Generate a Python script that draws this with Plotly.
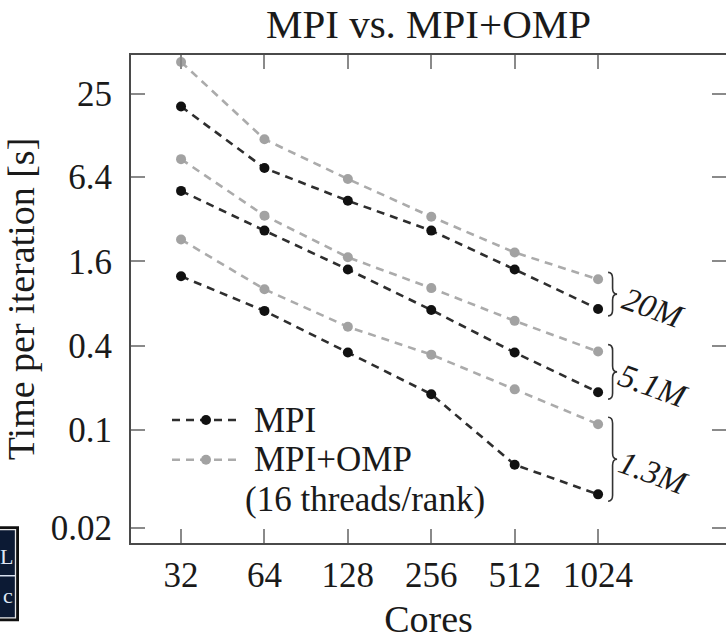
import math
import plotly.graph_objects as go

# ---------------- data ----------------
cores = [32, 64, 128, 256, 512, 1024]
core_labels = ["32", "64", "128", "256", "512", "1024"]
sizes = ["20M", "5.1M", "1.3M"]
mpi_20m = [20.4, 7.41, 4.33, 2.65, 1.40, 0.731]
mpi_5m = [5.09, 2.65, 1.40, 0.719, 0.357, 0.186]
mpi_1m = [1.25, 0.708, 0.357, 0.180, 0.0565, 0.0347]
omp_20m = [42.4, 11.9, 6.19, 3.33, 1.85, 1.19]
omp_5m = [8.58, 3.39, 1.71, 1.03, 0.601, 0.363]
omp_1m = [2.29, 1.01, 0.545, 0.345, 0.195, 0.110]
y_ticks = [25, 6.4, 1.6, 0.4, 0.1, 0.02]
y_tick_labels = ["25", "6.4", "1.6", "0.4", "0.1", "0.02"]

mpi_series = [mpi_20m, mpi_5m, mpi_1m]
omp_series = [omp_20m, omp_5m, omp_1m]

# ---------------- layout constants ----------------
W, H = 726, 640
ML, MR, MT, MB = 131, 0, 55, 93
PW = W - ML - MR
PH = H - MT - MB
XR = [1.3245, 3.472]
YR = [-1.807, 1.677]
FONT = "Liberation Serif"

BLACK_LINE = "#2e2e2e"
BLACK_MARK = "#111111"
GRAY_LINE = "#ababab"
GRAY_MARK = "#a2a2a2"
DASH = "8px,6px"


def xoff(xd, dpx):
    return 10 ** (math.log10(xd) + dpx * (XR[1] - XR[0]) / PW)


def yoff(yd, dpx_down):
    return 10 ** (math.log10(yd) - dpx_down * (YR[1] - YR[0]) / PH)


def px(x):
    return (x - ML) / PW


def py(y):
    return (H - MB - y) / PH


fig = go.Figure()

for s in mpi_series:
    fig.add_trace(go.Scatter(
        x=cores, y=s, mode="lines+markers", showlegend=False,
        line=dict(color=BLACK_LINE, width=2.6, dash=DASH),
        marker=dict(color=BLACK_MARK, size=10),
        yaxis="y",
    ))
for s in omp_series:
    fig.add_trace(go.Scatter(
        x=cores, y=s, mode="lines+markers", showlegend=False,
        line=dict(color=GRAY_LINE, width=2.6, dash=DASH),
        marker=dict(color=GRAY_MARK, size=10),
        yaxis="y2",
    ))

shapes = []
annotations = []

# braces with size labels
for name, m, o in zip(sizes, mpi_series, omp_series):
    top = yoff(o[-1], -7)
    bot = yoff(m[-1], 7)
    mid = math.sqrt(top * bot)
    xe = cores[-1]
    x0, xc, xt = xoff(xe, 10), xoff(xe, 14.5), xoff(xe, 19)
    r = 6
    path = (
        f"M {x0},{top} Q {xc},{top} {xc},{yoff(top, r)} "
        f"L {xc},{yoff(mid, -r)} Q {xc},{mid} {xt},{mid} "
        f"Q {xc},{mid} {xc},{yoff(mid, r)} "
        f"L {xc},{yoff(bot, -r)} Q {xc},{bot} {x0},{bot}"
    )
    shapes.append(dict(type="path", xref="x", yref="y", path=path,
                       line=dict(color="#333333", width=1.6)))
    annotations.append(dict(
        x=math.log10(xe), y=math.log10(mid), xref="x", yref="y",
        text=f"<i>{name}</i>", showarrow=False, textangle=20,
        xanchor="center", yanchor="middle", xshift=55, yshift=-14,
        font=dict(family=FONT, size=33, color="#1a1a1a"),
    ))

# custom legend
leg = [("MPI", BLACK_LINE, BLACK_MARK, 423), ("MPI+OMP", GRAY_LINE, GRAY_MARK, 463)]
for label, lc, mc, yy in leg:
    shapes.append(dict(type="line", xref="paper", yref="paper",
                       x0=px(172), x1=px(240), y0=py(yy), y1=py(yy),
                       line=dict(color=lc, width=2.6, dash=DASH)))
    shapes.append(dict(type="circle", xref="paper", yref="paper",
                       x0=px(201), x1=px(211), y0=py(yy + 5), y1=py(yy - 5),
                       fillcolor=mc, line=dict(width=0)))
    annotations.append(dict(x=px(252), y=py(yy), xref="paper", yref="paper",
                            text=label, showarrow=False, xanchor="left",
                            yanchor="middle",
                            font=dict(family=FONT, size=35, color="#1a1a1a")))
annotations.append(dict(x=px(243), y=py(503), xref="paper", yref="paper",
                        text="(16 threads/rank)", showarrow=False,
                        xanchor="left", yanchor="middle",
                        font=dict(family=FONT, size=35, color="#1a1a1a")))

# partial logo at bottom-left
shapes.append(dict(type="rect", xref="paper", yref="paper",
                   x0=px(-4), x1=px(19), y0=py(626), y1=py(530),
                   fillcolor="#101010", line=dict(width=0), layer="above"))
shapes.append(dict(type="rect", xref="paper", yref="paper",
                   x0=px(-4), x1=px(15.5), y0=py(622.5), y1=py(533.5),
                   fillcolor="#0c1a34", line=dict(color="#e8e8e8", width=1.3),
                   layer="above"))
shapes.append(dict(type="line", xref="paper", yref="paper",
                   x0=px(-4), x1=px(15), y0=py(580), y1=py(580),
                   line=dict(color="#d8e0ee", width=1.5), layer="above"))
for ch, yy in (("L", 561), ("c", 600)):
    annotations.append(dict(x=px(14.5), y=py(yy), xref="paper", yref="paper",
                            text=ch, showarrow=False, xanchor="right",
                            yanchor="middle",
                            font=dict(family=FONT, size=22, color="#dfe7f5")))

axis_common = dict(
    type="log", showgrid=False, zeroline=False,
    ticks="inside", ticklen=14, tickwidth=2, tickcolor="#8a8a8a",
)

fig.update_layout(
    width=W, height=H,
    margin=dict(l=ML, r=MR, t=MT, b=MB, pad=0),
    paper_bgcolor="white", plot_bgcolor="white",
    showlegend=False,
    title=dict(text="MPI vs. MPI+OMP", x=0.5, xref="paper", xanchor="center",
               y=1 - 24 / H, yanchor="middle",
               font=dict(family=FONT, size=41, color="#1a1a1a")),
    xaxis=dict(
        **axis_common, range=XR, tickvals=cores, ticktext=core_labels,
        showline=True, linecolor="#4a4a4a", linewidth=2, mirror="ticks",
        tickfont=dict(family=FONT, size=35, color="#1a1a1a"),
        ticklabelstandoff=0,
        title=dict(text="Cores", standoff=18,
                   font=dict(family=FONT, size=38, color="#1a1a1a")),
    ),
    yaxis=dict(
        **axis_common, range=YR, tickvals=y_ticks, ticktext=y_tick_labels,
        showline=True, linecolor="#4a4a4a", linewidth=2, mirror=False,
        tickfont=dict(family=FONT, size=35, color="#1a1a1a"),
        ticklabelstandoff=10,
        title=dict(text="Time per iteration [s]", standoff=10,
                   font=dict(family=FONT, size=38, color="#1a1a1a")),
    ),
    yaxis2=dict(
        **axis_common, range=YR, tickvals=y_ticks, overlaying="y", side="right",
        showticklabels=False, showline=False, linecolor="rgba(0,0,0,0)",
        anchor="x",
    ),
    shapes=shapes,
    annotations=annotations,
)

fig.write_html(
    "out.html",
    config={"displayModeBar": False, "staticPlot": True},
    post_script="document.body.style.margin='0';document.body.style.overflow='hidden';",
)
